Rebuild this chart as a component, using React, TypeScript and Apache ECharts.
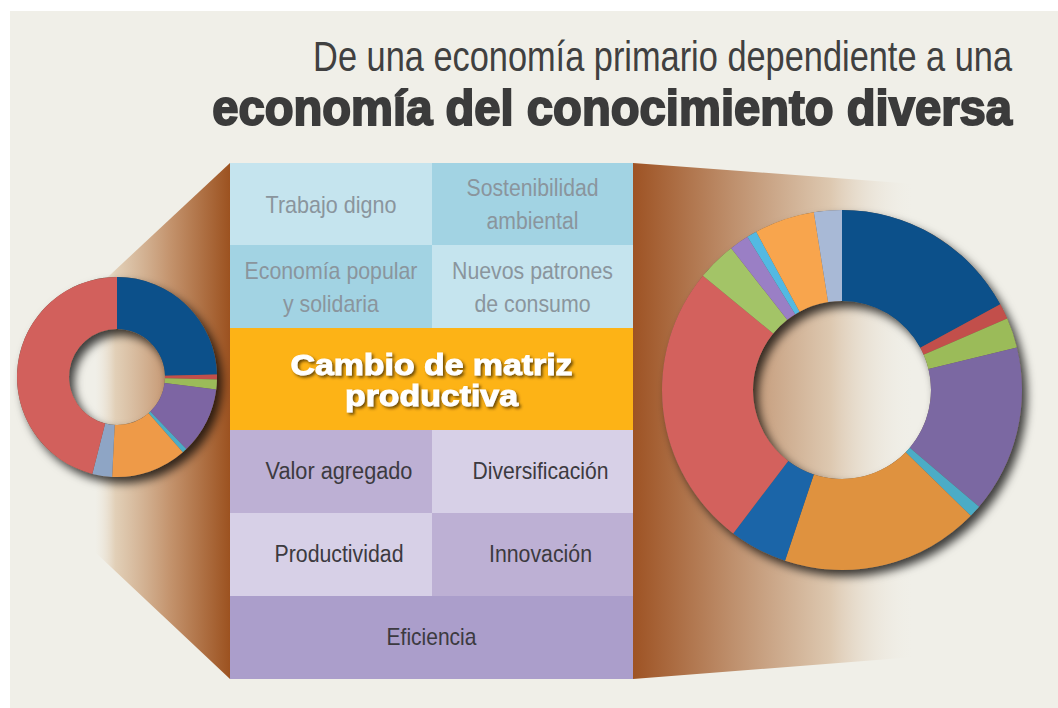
import React, { useEffect, useRef } from "react";
import * as echarts from "echarts";

// ---------- data ----------
const titleLine1 = "De una economía primario dependiente a una";
const titleLine2 = "economía del conocimiento diversa";

const topCellLabels = [
  "Trabajo digno",
  "Sostenibilidad\nambiental",
  "Economía popular\ny solidaria",
  "Nuevos patrones\nde consumo",
];
const centerLabel = "Cambio de matriz\nproductiva";
const bottomCellLabels = ["Valor agregado", "Diversificación", "Productividad", "Innovación"];
const footerLabel = "Eficiencia";

// economía primario dependiente (left donut), clockwise from 12 o'clock
const leftNames = ["S1", "S2", "S3", "S4", "S5", "S6", "S7", "S8"];
const leftValues = [24.6, 0.8, 1.6, 10.8, 0.75, 12.2, 3.2, 46.0];
const leftColors = ["#0c508a", "#c24f4b", "#9bbb59", "#7d65a3", "#4bacc6", "#ee9a48", "#8ea5c5", "#d2605c"];

// economía del conocimiento diversa (right donut), clockwise from 12 o'clock
const rightNames = ["S1", "S2", "S3", "S4", "S5", "S6", "S7", "S8", "S9", "S10", "S11", "S12", "S13"];
const rightValues = [17.1, 1.4, 2.7, 15.0, 1.1, 17.8, 5.2, 25.6, 3.5, 1.75, 0.9, 5.4, 2.5];
const rightColors = [
  "#0c508a", "#c24f4b", "#9bbb59", "#7b68a2", "#4bacc6", "#df923f", "#1b65a8",
  "#d3615d", "#a3c467", "#9a7fc5", "#53b9e2", "#f8a54d", "#a8b9d6",
];

// ---------- layout & styles ----------
const BG = "#f0efe8";
const FAMILY = "'Liberation Sans', Arial, sans-serif";

const GX0 = 230, GXM = 432, GX1 = 633;
const rowsY = [163, 245, 328, 430, 513, 596, 679];
// target widths (px) of the widest line in each cell, to emulate the condensed face
const topCellWidths = [131, 132, 173, 161];
const bottomCellWidths = [147, 136, 129, 103];
const footerWidth = 90;
const centerWidth = 282;

let measureCtx: CanvasRenderingContext2D | null = null;
function fitScale(text: string, weight: string, size: number, target: number) {
  if (!measureCtx) measureCtx = document.createElement("canvas").getContext("2d");
  if (!measureCtx) return 1;
  measureCtx.font = `${weight} ${size}px ${FAMILY}`;
  const w = Math.max(...text.split("\n").map((l) => measureCtx!.measureText(l).width));
  return w > 0 ? target / w : 1;
}

function cellText(text: string, cx: number, cy: number, color: string, target: number) {
  const size = 23;
  return {
    type: "text", z: 6, silent: true, x: cx, y: cy,
    scaleX: fitScale(text, "normal", size, target),
    style: { text, fill: color, fontFamily: FAMILY, fontSize: size, lineHeight: 33, align: "center", verticalAlign: "middle" },
  };
}

function buildGraphics() {
  const els: any[] = [];
  els.push({ type: "rect", z: -20, silent: true, shape: { x: 10, y: 11, width: 1048, height: 697 }, style: { fill: BG } });

  // left funnel
  els.push({
    type: "polygon", z: -10, silent: true,
    shape: { points: [[95, 289], [230, 163], [230, 679], [95, 552]] },
    style: {
      fill: new echarts.graphic.LinearGradient(0, 0, 1, 0, [
        { offset: 0, color: "rgba(236,228,214,0)" },
        { offset: 0.15, color: "rgba(224,204,178,0.9)" },
        { offset: 0.55, color: "#c4946e" },
        { offset: 1, color: "#9c5220" },
      ]),
    },
  });
  // right funnel
  els.push({
    type: "polygon", z: -10, silent: true,
    shape: { points: [[633, 163], [915, 184], [915, 657], [633, 679]] },
    style: {
      fill: new echarts.graphic.LinearGradient(0, 0, 1, 0, [
        { offset: 0, color: "#9e5324" },
        { offset: 0.35, color: "#be8f6c" },
        { offset: 0.7, color: "#ddc8b0" },
        { offset: 1, color: "rgba(240,239,232,0)" },
      ]),
    },
  });

  const topFills = ["#c5e4ee", "#a2d3e3", "#a2d3e3", "#c5e4ee"];
  const botFills = ["#bdb0d4", "#d7d0e7", "#d7d0e7", "#bdb0d4"];
  const txtTop = "#8a959d";
  const txtBot = "#3c3a40";

  for (let i = 0; i < 4; i++) {
    const r = Math.floor(i / 2), c = i % 2;
    const x = c === 0 ? GX0 : GXM, w = c === 0 ? GXM - GX0 : GX1 - GXM;
    const y = rowsY[r], h = rowsY[r + 1] - rowsY[r];
    els.push({ type: "rect", z: 5, silent: true, shape: { x, y, width: w, height: h }, style: { fill: topFills[i] } });
    els.push(cellText(topCellLabels[i], x + w / 2, y + h / 2 + 1, txtTop, topCellWidths[i]));
  }
  // center band
  els.push({ type: "rect", z: 5, silent: true, shape: { x: GX0, y: rowsY[2], width: GX1 - GX0, height: rowsY[3] - rowsY[2] }, style: { fill: "#fdb316" } });
  els.push({
    type: "text", z: 6, silent: true, x: (GX0 + GX1) / 2, y: (rowsY[2] + rowsY[3]) / 2 + 1,
    scaleX: fitScale(centerLabel, "bold", 30, centerWidth),
    style: {
      text: centerLabel, fill: "#ffffff", fontFamily: FAMILY, fontWeight: "bold", fontSize: 30, lineHeight: 31,
      align: "center", verticalAlign: "middle", stroke: "#ffffff", lineWidth: 1,
      textShadowColor: "rgba(70,45,0,0.8)", textShadowBlur: 3, textShadowOffsetX: 2, textShadowOffsetY: 2,
    },
  });
  for (let i = 0; i < 4; i++) {
    const r = 3 + Math.floor(i / 2), c = i % 2;
    const x = c === 0 ? GX0 : GXM, w = c === 0 ? GXM - GX0 : GX1 - GXM;
    const y = rowsY[r], h = rowsY[r + 1] - rowsY[r];
    els.push({ type: "rect", z: 5, silent: true, shape: { x, y, width: w, height: h }, style: { fill: botFills[i] } });
    els.push(cellText(bottomCellLabels[i], x + w / 2 + 8, y + h / 2, txtBot, bottomCellWidths[i]));
  }
  els.push({ type: "rect", z: 5, silent: true, shape: { x: GX0, y: rowsY[5], width: GX1 - GX0, height: rowsY[6] - rowsY[5] }, style: { fill: "#ab9ecb" } });
  els.push(cellText(footerLabel, (GX0 + GX1) / 2, (rowsY[5] + rowsY[6]) / 2, txtBot, footerWidth));

  // title
  els.push({
    type: "text", z: 6, silent: true, x: 1012, y: 35,
    scaleX: fitScale(titleLine1, "normal", 42, 699),
    style: { text: titleLine1, fill: "#404040", fontFamily: FAMILY, fontSize: 42, align: "right", verticalAlign: "top" },
  });
  els.push({
    type: "text", z: 6, silent: true, x: 1012, y: 83,
    scaleX: fitScale(titleLine2, "bold", 50, 800),
    style: {
      text: titleLine2, fill: "#3b3b3b", fontFamily: FAMILY, fontWeight: "bold", fontSize: 50,
      align: "right", verticalAlign: "top", stroke: "#3b3b3b", lineWidth: 2,
    },
  });
  return els;
}

function donut(names: string[], values: number[], colors: string[], center: number[], radius: number[]) {
  const shadow = {
    type: "pie", z: 1, silent: true, animation: false, center, radius, clockwise: true, startAngle: 90,
    label: { show: false }, labelLine: { show: false }, emphasis: { disabled: true },
    data: [{ value: 1, name: "sombra" }],
    itemStyle: { color: "#6b5a4a", shadowBlur: 10, shadowColor: "rgba(0,0,0,0.75)", shadowOffsetX: 5, shadowOffsetY: 6 },
  };
  const main = {
    type: "pie", z: 3, silent: true, animation: false, center, radius, clockwise: true, startAngle: 90,
    label: { show: false }, labelLine: { show: false }, emphasis: { disabled: true },
    itemStyle: { borderWidth: 0 },
    data: values.map((v, i) => ({ value: v, name: names[i], itemStyle: { color: colors[i] } })),
  };
  return [shadow, main];
}

export default function App() {
  const ref = useRef<HTMLDivElement>(null);
  useEffect(() => {
    if (!ref.current) return;
    const chart = echarts.init(ref.current, null, { renderer: "svg" });
    chart.setOption({
      animation: false,
      backgroundColor: "#ffffff",
      tooltip: { show: false },
      graphic: { elements: buildGraphics() },
      series: [
        ...donut(leftNames, leftValues, leftColors, [117, 377], [48, 100]),
        ...donut(rightNames, rightValues, rightColors, [842, 390], [89, 180]),
      ],
    });
    return () => chart.dispose();
  }, []);
  return <div ref={ref} style={{ position: "absolute", left: 0, top: 0, width: 1058, height: 708 }} />;
}
